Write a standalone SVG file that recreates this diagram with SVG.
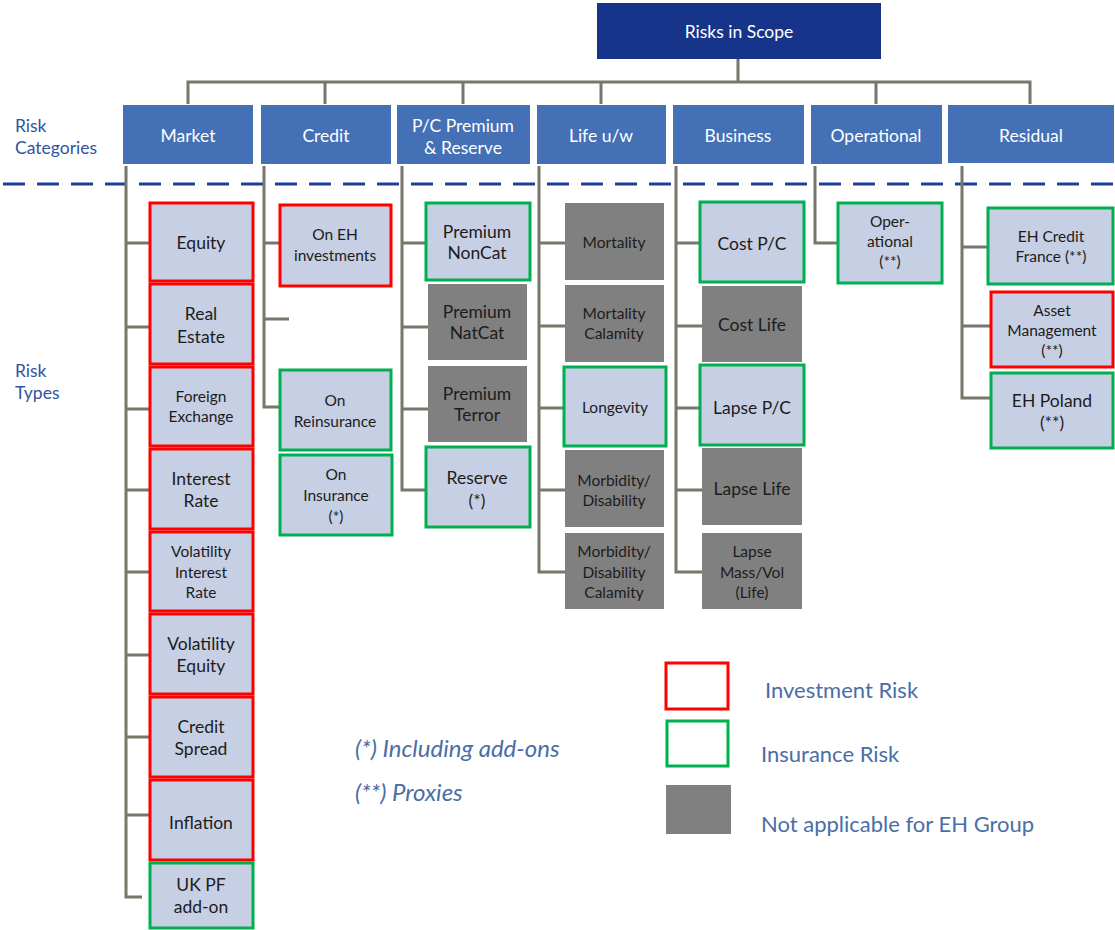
<svg xmlns="http://www.w3.org/2000/svg" width="1115" height="930" viewBox="0 0 1115 930">
<style>
text{font-family:Lato,"Open Sans","Liberation Sans",sans-serif;text-anchor:middle;dominant-baseline:central}
.top{fill:#16358a}
.cat{fill:#4470b5}
.ct{fill:#fff;font-size:17.5px}
.inv{fill:#c6cfe3;stroke:#ff0000;stroke-width:3}
.ins{fill:#c6cfe3;stroke:#00b050;stroke-width:3}
.na{fill:#808080}
.t{fill:#1c1c1c;font-size:17.5px}
.s{fill:#1c1c1c;font-size:15.5px}
.lbl{fill:#2f54a0;font-size:17.5px;text-anchor:start}
.leg{fill:#4a6ea6;font-size:22px;text-anchor:start}
.note{fill:#4a6ea6;font-size:24px;font-style:italic;text-anchor:start}
.c{fill:none;stroke:#77776a;stroke-width:3}
</style>
<g id="labels">
<text class="lbl" x="15" y="125">Risk</text>
<text class="lbl" x="15" y="147">Categories</text>
<text class="lbl" x="15" y="370">Risk</text>
<text class="lbl" x="15" y="392">Types</text>
</g>
<line x1="3" y1="184" x2="1115" y2="184" stroke="#1f3d99" stroke-width="3" stroke-dasharray="22 12"/>
<g id="connectors">
<path class="c" d="M738 58V82M188 104V82H1030V104M325 82V104M463 82V104M601 82V104M876 82V104"/>
<path class="c" d="M126 166V897H142M126 243H150M126 327H150M126 409H150M126 490H150M126 572H150M126 655H150M126 737H150M126 815H150"/>
<path class="c" d="M264 166V407H289M264 243H289M264 319H289"/>
<path class="c" d="M402 166V490H425M402 243H425M402 327H428M402 409H428"/>
<path class="c" d="M539 166V572H565M539 243H565M539 326H565M539 408H564M539 490H565"/>
<path class="c" d="M676 166V572H702M676 243H700M676 326H702M676 408H700M676 490H702"/>
<path class="c" d="M815 166V243H838"/>
<path class="c" d="M962 166V398H990M962 247H987M962 326H990"/>
</g>
<g id="risks-in-scope"><rect class="top" x="597" y="3" width="284" height="56"/><text class="ct" x="739" y="31">Risks in Scope</text></g>
<g id="cat-market"><rect class="cat" x="123" y="105" width="130" height="59"/><text class="ct" x="188" y="135">Market</text></g>
<g id="cat-credit"><rect class="cat" x="261" y="105" width="130" height="59"/><text class="ct" x="326" y="135">Credit</text></g>
<g id="cat-pc"><rect class="cat" x="397" y="105" width="133" height="59"/><text class="ct" x="463" y="125">P/C Premium</text><text class="ct" x="463" y="147">&amp; Reserve</text></g>
<g id="cat-life"><rect class="cat" x="537" y="105" width="129" height="59"/><text class="ct" x="601" y="135">Life u/w</text></g>
<g id="cat-business"><rect class="cat" x="673" y="105" width="131" height="59"/><text class="ct" x="738" y="135">Business</text></g>
<g id="cat-operational"><rect class="cat" x="811" y="105" width="131" height="59"/><text class="ct" x="876" y="135">Operational</text></g>
<g id="cat-residual"><rect class="cat" x="948" y="105" width="166" height="58"/><text class="ct" x="1031" y="135">Residual</text></g>

<g id="equity"><rect class="inv" x="150" y="203" width="103" height="78"/><text class="t" x="201" y="242">Equity</text></g>
<g id="real-estate"><rect class="inv" x="150" y="284" width="103" height="80"/><text class="t" x="201" y="313">Real</text><text class="t" x="201" y="336">Estate</text></g>
<g id="fx"><rect class="inv" x="150" y="367" width="103" height="79"/><text class="s" x="201" y="396">Foreign</text><text class="s" x="201" y="416">Exchange</text></g>
<g id="interest-rate"><rect class="inv" x="150" y="449" width="103" height="80"/><text class="t" x="201" y="478">Interest</text><text class="t" x="201" y="500">Rate</text></g>
<g id="vol-ir"><rect class="inv" x="150" y="532" width="103" height="79"/><text class="s" x="201" y="551">Volatility</text><text class="s" x="201" y="572">Interest</text><text class="s" x="201" y="592">Rate</text></g>
<g id="vol-eq"><rect class="inv" x="150" y="614" width="103" height="80"/><text class="t" x="201" y="643">Volatility</text><text class="t" x="201" y="665">Equity</text></g>
<g id="credit-spread"><rect class="inv" x="150" y="697" width="103" height="80"/><text class="t" x="201" y="726">Credit</text><text class="t" x="201" y="748">Spread</text></g>
<g id="inflation"><rect class="inv" x="150" y="780" width="103" height="80"/><text class="t" x="201" y="822">Inflation</text></g>
<g id="uk-pf"><rect class="ins" x="150" y="863" width="103" height="65"/><text class="t" x="201" y="884">UK PF</text><text class="t" x="201" y="906">add-on</text></g>

<g id="on-eh"><rect class="inv" x="280" y="205" width="111" height="81"/><text class="s" x="335" y="234">On EH</text><text class="s" x="335" y="255">investments</text></g>
<g id="on-reins"><rect class="ins" x="280" y="370" width="111" height="80"/><text class="s" x="335" y="400">On</text><text class="s" x="335" y="421">Reinsurance</text></g>
<g id="on-ins"><rect class="ins" x="280" y="455" width="112" height="80"/><text class="s" x="336" y="474">On</text><text class="s" x="336" y="495">Insurance</text><text class="s" x="336" y="516">(*)</text></g>

<g id="prem-noncat"><rect class="ins" x="426" y="203" width="104" height="77"/><text class="t" x="477" y="231">Premium</text><text class="t" x="477" y="252">NonCat</text></g>
<g id="prem-natcat"><rect class="na" x="428" y="284" width="99" height="76"/><text class="t" x="477" y="311">Premium</text><text class="t" x="477" y="332">NatCat</text></g>
<g id="prem-terror"><rect class="na" x="428" y="366" width="99" height="76"/><text class="t" x="477" y="393">Premium</text><text class="t" x="477" y="414">Terror</text></g>
<g id="reserve"><rect class="ins" x="426" y="447" width="104" height="80"/><text class="t" x="477" y="477">Reserve</text><text class="t" x="477" y="500">(*)</text></g>

<g id="mortality"><rect class="na" x="565" y="203" width="99" height="77"/><text class="s" x="614" y="242">Mortality</text></g>
<g id="mort-cal"><rect class="na" x="565" y="285" width="99" height="77"/><text class="s" x="614" y="313">Mortality</text><text class="s" x="614" y="333">Calamity</text></g>
<g id="longevity"><rect class="ins" x="564" y="367" width="102" height="79"/><text class="s" x="615" y="407">Longevity</text></g>
<g id="morb"><rect class="na" x="565" y="450" width="99" height="77"/><text class="s" x="614" y="480">Morbidity/</text><text class="s" x="614" y="500">Disability</text></g>
<g id="morb-cal"><rect class="na" x="565" y="533" width="99" height="76"/><text class="s" x="614" y="551">Morbidity/</text><text class="s" x="614" y="572">Disability</text><text class="s" x="614" y="592">Calamity</text></g>

<g id="cost-pc"><rect class="ins" x="700" y="202" width="104" height="80"/><text class="t" x="752" y="243">Cost P/C</text></g>
<g id="cost-life"><rect class="na" x="702" y="286" width="100" height="76"/><text class="t" x="752" y="324">Cost Life</text></g>
<g id="lapse-pc"><rect class="ins" x="700" y="365" width="104" height="80"/><text class="t" x="752" y="407">Lapse P/C</text></g>
<g id="lapse-life"><rect class="na" x="702" y="448" width="100" height="77"/><text class="t" x="752" y="488">Lapse Life</text></g>
<g id="lapse-mass"><rect class="na" x="702" y="533" width="100" height="76"/><text class="s" x="752" y="551">Lapse</text><text class="s" x="752" y="572">Mass/Vol</text><text class="s" x="752" y="592">(Life)</text></g>

<g id="oper"><rect class="ins" x="838" y="203" width="104" height="80"/><text class="s" x="890" y="221">Oper-</text><text class="s" x="890" y="241">ational</text><text class="s" x="890" y="261">(**)</text></g>

<g id="eh-credit-france"><rect class="ins" x="988" y="208" width="125" height="76"/><text class="s" x="1051" y="236">EH Credit</text><text class="s" x="1051" y="256">France (**)</text></g>
<g id="asset-mgmt"><rect class="inv" x="991" y="292" width="122" height="75"/><text class="s" x="1052" y="310">Asset</text><text class="s" x="1052" y="330">Management</text><text class="s" x="1052" y="350">(**)</text></g>
<g id="eh-poland"><rect class="ins" x="991" y="373" width="122" height="75"/><text class="t" x="1052" y="400">EH Poland</text><text class="t" x="1052" y="422">(**)</text></g>

<g id="notes">
<text class="note" x="355" y="747">(*) Including add-ons</text>
<text class="note" x="355" y="791">(**) Proxies</text>
</g>
<g id="legend">
<rect x="666" y="663" width="62" height="46" fill="#fff" stroke="#ff0000" stroke-width="3"/>
<rect x="667" y="721" width="61" height="45" fill="#fff" stroke="#00b050" stroke-width="3"/>
<rect x="666" y="785" width="65" height="49" fill="#808080"/>
<text class="leg" x="765" y="689">Investment Risk</text>
<text class="leg" x="761" y="753">Insurance Risk</text>
<text class="leg" x="761" y="823">Not applicable for EH Group</text>
</g>
</svg>
